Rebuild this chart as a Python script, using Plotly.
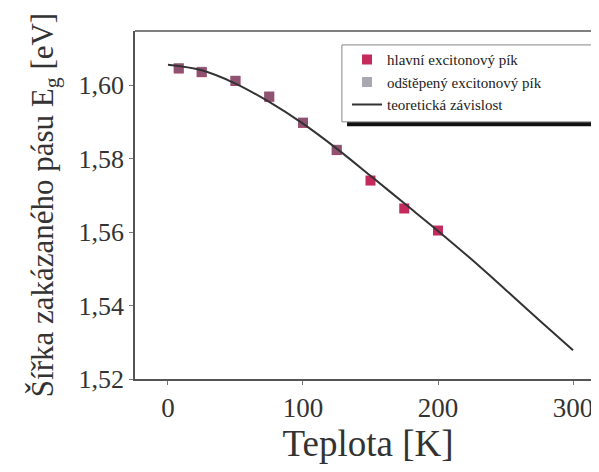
import plotly.graph_objects as go

# Data
T_main = [8, 25, 50, 75, 100, 125, 150, 175, 200]
E_main = [1.6045, 1.6035, 1.6011, 1.5968, 1.5897, 1.5823, 1.5740, 1.5664, 1.5604]

T_split = [8, 25, 50, 75, 100, 125]
E_split = [1.6046, 1.6036, 1.6012, 1.5969, 1.5898, 1.5824]

T_theory = [0, 25, 50, 75, 100, 125, 150, 175, 200, 225, 250, 275, 300]
E_theory = [1.6055, 1.6040, 1.6004, 1.5954, 1.5895, 1.5827, 1.5753, 1.5678, 1.5603,
            1.5525, 1.5443, 1.5360, 1.5278]

y_ticks = [1.52, 1.54, 1.56, 1.58, 1.60]
x_ticks = [0, 100, 200, 300]

serif = "Liberation Serif"

fig = go.Figure()
fig.add_trace(go.Scatter(
    x=T_main, y=E_main, mode="markers", name="hlavní excitonový pík",
    marker=dict(symbol="square", size=10, color="#c42a5c"), legendrank=1))
fig.add_trace(go.Scatter(
    x=T_split, y=E_split, mode="markers", name="odštěpený excitonový pík",
    marker=dict(symbol="square", size=10, color="#6e6e7e", opacity=0.6), legendrank=2))
fig.add_trace(go.Scatter(
    x=T_theory, y=E_theory, mode="lines", name="teoretická závislost",
    line=dict(color="#333333", width=2, shape="spline"), legendrank=3))

# the page body has an 8px margin, so the figure is sized to fit the window from (8, 8)
fig.update_layout(
    width=593, height=464,
    margin=dict(l=127, r=0, t=23, b=93, autoexpand=False),
    paper_bgcolor="white", plot_bgcolor="white",
    separators=", ",
    font=dict(family=serif, color="#333333"),
    showlegend=True,
    legend=dict(x=0.455, y=0.965, xanchor="left", yanchor="top",
                bgcolor="rgba(0,0,0,0)", borderwidth=0,
                font=dict(family=serif, size=15, color="#222222"),
                tracegroupgap=0, itemwidth=30),
    xaxis=dict(range=[-24.4, 320.7], tickvals=x_ticks, ticks="outside", ticklen=4,
               tickcolor="#777777", showline=True, linecolor="#555555", linewidth=1.5,
               showgrid=False, zeroline=False, automargin=False,
               tickfont=dict(family=serif, size=27, color="#333333"),
               title=dict(text="Teplota [K]", font=dict(family=serif, size=37, color="#333333"),
                          standoff=0)),
    yaxis=dict(range=[1.52, 1.6147], tickvals=y_ticks, tickformat=".2f", ticks="outside",
               ticklen=4, tickcolor="#777777", showline=True, linecolor="#555555", linewidth=1.5,
               showgrid=False, zeroline=False, automargin=False,
               tickfont=dict(family=serif, size=26, color="#333333"),
               title=dict(text="Šířka zakázaného pásu E<sub>g</sub> [eV]",
                          font=dict(family=serif, size=31, color="#333333"), standoff=16)),
)

# top frame line
fig.add_shape(type="line", xref="paper", yref="paper", x0=0, x1=1, y0=1, y1=1,
              line=dict(color="#555555", width=1.5))
# legend frame (extends past the right edge, as in the reference) and its shadow
fig.add_shape(type="rect", xref="paper", yref="paper", x0=0.444, x1=1.05, y0=0.739, y1=0.96,
              line=dict(color="#888888", width=1), fillcolor="white", layer="above")
fig.add_shape(type="line", xref="paper", yref="paper", x0=0.455, x1=1.05, y0=0.732, y1=0.732,
              line=dict(color="#111111", width=4), layer="above")

fig.write_html("out.html")
